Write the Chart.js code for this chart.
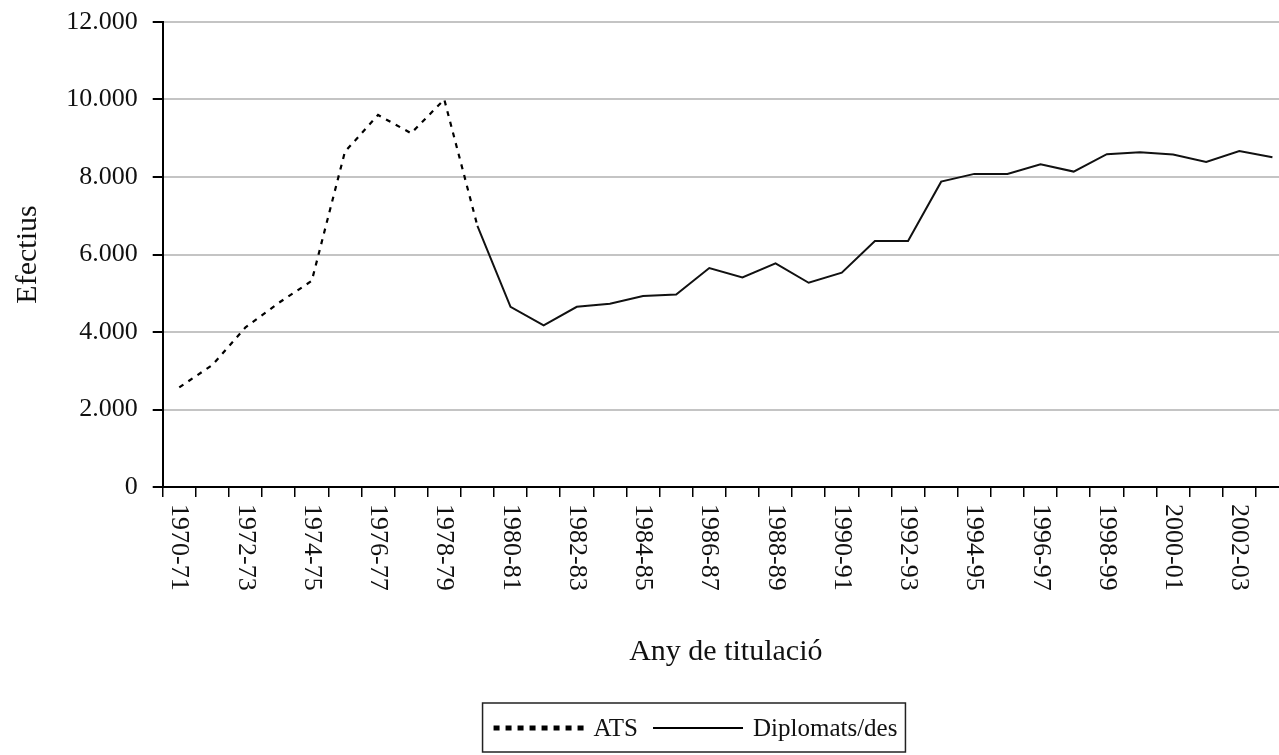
<!DOCTYPE html>
<html>
<head>
<meta charset="utf-8">
<script src="https://cdn.jsdelivr.net/npm/chart.js@4.4.0/dist/chart.umd.min.js"></script>
<style>
  html, body { margin: 0; padding: 0; background: #fff; overflow: hidden; }
  #wrap { width: 1391px; height: 755px; }
</style>
</head>
<body>
<div id="wrap"><canvas id="chart" width="1391" height="755"></canvas></div>
<script>
const categories = [
    '1970-71', '1971-72', '1972-73', '1973-74', '1974-75', '1975-76', '1976-77', '1977-78',
    '1978-79', '1979-80', '1980-81', '1981-82', '1982-83', '1983-84', '1984-85', '1985-86',
    '1986-87', '1987-88', '1988-89', '1989-90', '1990-91', '1991-92', '1992-93', '1993-94',
    '1994-95', '1995-96', '1996-97', '1997-98', '1998-99', '1999-00', '2000-01', '2001-02',
    '2002-03', '2003-04'
];

// ATS runs until 1979-80, then the diplomats series takes over
const atsValues = [
    2570, 3150, 4120, 4750, 5320, 8650, 9600, 9130, 10000, 6740,
    null, null, null, null, null, null, null, null, null, null, null, null,
    null, null, null, null, null, null, null, null, null, null, null, null
];
const diplomatsValues = [
    null, null, null, null, null, null, null, null, null,
    6740, 4650, 4170, 4650, 4730, 4930, 4970, 5650, 5410, 5770, 5270, 5530,
    6350, 6350, 7880, 8080, 8080, 8330, 8140, 8590, 8640, 8580, 8390, 8670, 8510
];

const seriesNames = ['ATS', 'Diplomats/des'];
const yMax = 12000;
const yStep = 2000;
const xTitle = 'Any de titulació';
const yTitle = 'Efectius';

const serif = "'Liberation Serif', 'Times New Roman', serif";
const ink = '#111';

function fmtThousands(v) {
    return String(v).replace(/\B(?=(\d{3})+(?!\d))/g, '.');
}

// x labels read top-to-bottom, every second category
const verticalLabels = {
    id: 'verticalLabels',
    afterDraw(chart) {
        const ctx = chart.ctx;
        const xs = chart.scales.x;
        ctx.save();
        ctx.font = '26px ' + serif;
        ctx.fillStyle = ink;
        ctx.textAlign = 'left';
        ctx.textBaseline = 'middle';
        categories.forEach((c, i) => {
            if (i % 2 !== 0) return;
            const x = xs.getPixelForValue(i);
            ctx.save();
            ctx.translate(x, xs.top + 17);
            ctx.rotate(Math.PI / 2);
            ctx.fillText(c, 0, 0);
            ctx.restore();
        });
        ctx.restore();
    }
};

// boxed legend centred on the whole chart object
const boxedLegend = {
    id: 'boxedLegend',
    afterDraw(chart) {
        const ctx = chart.ctx;
        const items = [
            { text: seriesNames[0], dash: [6, 6], width: 5 },
            { text: seriesNames[1], dash: [], width: 2 }
        ];
        const lineLen = 90, textGap = 10, itemGap = 15;
        ctx.save();
        ctx.font = '25px ' + serif;
        let total = 0;
        items.forEach((it, i) => {
            it.tw = ctx.measureText(it.text).width;
            total += lineLen + textGap + it.tw + (i > 0 ? itemGap : 0);
        });
        const cy = chart.height - 27;
        let x = chart.width / 2 - total / 2;

        ctx.strokeStyle = '#222';
        ctx.lineWidth = 1.5;
        ctx.strokeRect(x - 11, cy - 25, total + 19, 49);

        items.forEach((it) => {
            ctx.beginPath();
            ctx.setLineDash(it.dash);
            ctx.lineWidth = it.width;
            ctx.strokeStyle = '#000';
            ctx.moveTo(x, cy);
            ctx.lineTo(x + lineLen, cy);
            ctx.stroke();
            ctx.setLineDash([]);
            ctx.fillStyle = ink;
            ctx.textAlign = 'left';
            ctx.textBaseline = 'middle';
            ctx.fillText(it.text, x + lineLen + textGap, cy + 1);
            x += lineLen + textGap + it.tw + itemGap;
        });
        ctx.restore();
    }
};

new Chart(document.getElementById('chart'), {
    type: 'line',
    data: {
        labels: categories,
        datasets: [
            {
                label: seriesNames[0],
                data: atsValues,
                borderColor: '#000',
                borderWidth: 2.2,
                borderDash: [5, 6],
                pointRadius: 0,
                tension: 0,
                fill: false
            },
            {
                label: seriesNames[1],
                data: diplomatsValues,
                borderColor: '#111',
                borderWidth: 2,
                pointRadius: 0,
                tension: 0,
                fill: false
            }
        ]
    },
    options: {
        responsive: false,
        animation: false,
        layout: { padding: { left: 10, right: 102, top: 22, bottom: 49 } },
        plugins: {
            legend: { display: false },
            tooltip: { enabled: false }
        },
        scales: {
            x: {
                type: 'category',
                offset: true,
                grid: {
                    display: true,
                    offset: true,
                    drawOnChartArea: false,
                    drawTicks: true,
                    tickLength: 10,
                    tickColor: '#000',
                    lineWidth: 1.5
                },
                border: { color: '#000', width: 2 },
                ticks: { display: false },
                title: {
                    display: true,
                    text: xTitle,
                    color: ink,
                    font: { family: serif, size: 30 },
                    padding: { top: 0, bottom: 36 }
                },
                afterFit(scale) { scale.height = 219; }
            },
            y: {
                min: 0,
                max: yMax,
                ticks: {
                    stepSize: yStep,
                    color: ink,
                    padding: 15,
                    font: { family: serif, size: 26 },
                    callback: v => fmtThousands(v)
                },
                grid: {
                    color: '#c4c4c4',
                    lineWidth: 2,
                    tickColor: '#000',
                    tickLength: 10
                },
                border: { color: '#000', width: 2 },
                title: {
                    display: true,
                    text: yTitle,
                    color: ink,
                    font: { family: serif, size: 30 },
                    padding: 0
                },
                afterFit(scale) {
                    scale.width = 152.7;
                    scale.paddingTop = 0;
                    scale.paddingBottom = 0;
                }
            }
        }
    },
    plugins: [verticalLabels, boxedLegend]
});
</script>
</body>
</html>
